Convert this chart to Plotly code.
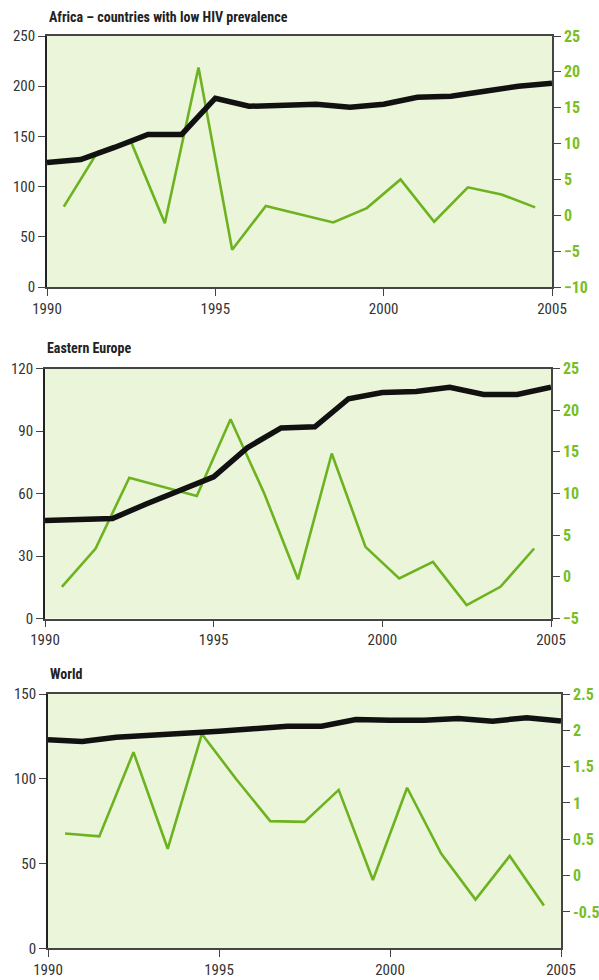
import plotly.graph_objects as go

years = list(range(1990, 2006))
years_mid = [y + 0.5 for y in range(1990, 2005)]

africa_black = [124, 127, 139, 152, 152, 188, 180, 181, 182, 179, 182, 189, 190, 195, 200, 203]
africa_green = [1.2, 8.8, 10.2, -1.1, 20.6, -4.8, 1.3, 0.2, -1.0, 1.0, 5.0, -0.9, 3.9, 2.9, 1.1]

ee_black = [47, 47.5, 48, 55, 61.5, 68, 82, 91.5, 92, 105.5, 108.5, 109, 111, 107.5, 107.5, 111]
ee_green = [-1.2, 3.4, 11.9, 10.8, 9.7, 18.9, 10.0, -0.3, 14.8, 3.6, -0.2, 1.8, -3.4, -1.2, 3.4]

world_black = [123, 122, 124.5, 125.5, 127, 128, 129.5, 131, 131, 135, 134.5, 134.5, 135.5, 134, 136, 134]
world_green = [0.58, 0.54, 1.70, 0.37, 1.95, 1.33, 0.75, 0.74, 1.18, -0.06, 1.21, 0.30, -0.33, 0.27, -0.41]

titles = ["Africa – countries with low HIV prevalence", "Eastern Europe", "World"]
x_ticks = [1990, 1995, 2000, 2005]

left_ticks = [[0, 50, 100, 150, 200, 250], [0, 30, 60, 90, 120], [0, 50, 100, 150]]
left_ranges = [[0, 250], [0, 120], [0, 150]]
right_ticks = [[-10, -5, 0, 5, 10, 15, 20, 25], [-5, 0, 5, 10, 15, 20, 25],
               [-0.5, 0, 0.5, 1, 1.5, 2, 2.5]]
right_text = [None, None, ["-0.5", "0", "0.5", "1", "1.5", "2", "2.5"]]
right_ranges = [[-10, 25], [-5, 25], [-1, 2.5]]

W, H = 599, 980
FONT = "Liberation Sans Narrow, Roboto Condensed, Arial Narrow, sans-serif"
GREEN = "#6DB31F"
GREEN_TXT = "#79BE24"
BG = "#EAF5DA"
AX = "#444444"

# pixel geometry per panel: (x_left, x_right, y_top, y_bottom)
geo = [(47, 552, 36, 287), (45, 551, 368.5, 618.5), (48, 561, 694, 948.3)]
title_y = [17, 348, 674]

blacks = [africa_black, ee_black, world_black]
greens = [africa_green, ee_green, world_green]

fig = go.Figure()
layout = dict(
    width=W, height=H, margin=dict(l=0, r=0, t=0, b=0),
    paper_bgcolor="white", plot_bgcolor=BG, showlegend=False,
    font=dict(family=FONT, size=14, color="#333333"),
    template="none",
)
annotations = []
for i in range(3):
    xl, xr, yt, yb = geo[i]
    xn = "x" if i == 0 else f"x{i + 1}"
    yr = f"y{2 * i + 1}" if i > 0 else "y"
    yl = f"y{2 * i + 2}"
    xdom = [xl / W, xr / W]
    ydom = [1 - yb / H, 1 - yt / H]

    fig.add_trace(go.Scatter(x=years_mid, y=greens[i], mode="lines",
                             line=dict(color=GREEN, width=2.6), xaxis=xn, yaxis=yr,
                             hoverinfo="skip"))
    fig.add_trace(go.Scatter(x=years, y=blacks[i], mode="lines",
                             line=dict(color="#111111", width=5.5), xaxis=xn, yaxis=yl,
                             hoverinfo="skip"))

    xkey = "xaxis" if i == 0 else f"xaxis{i + 1}"
    yrkey = "yaxis" if i == 0 else f"yaxis{2 * i + 1}"
    ylkey = f"yaxis{2 * i + 2}"
    layout[xkey] = dict(domain=xdom, range=[1990, 2005], anchor=yr,
                        tickvals=x_ticks, ticks="outside", ticklen=7, tickwidth=1.3,
                        tickcolor=AX, showline=True, linecolor=AX, linewidth=1.5,
                        mirror=True, showgrid=False, zeroline=False, automargin=False,
                        tickfont=dict(family=FONT, size=15, color="#333333"))
    rk = dict(domain=ydom, range=right_ranges[i], anchor=xn, side="right",
              tickvals=right_ticks[i], ticks="outside", ticklen=7, tickwidth=1.3,
              tickcolor=AX, showline=True, linecolor=AX, linewidth=1.5,
              showgrid=False, zeroline=False, automargin=False,
              tickfont=dict(family=FONT, size=16, color=GREEN_TXT, weight="bold"))
    if right_text[i] is not None:
        rk["ticktext"] = right_text[i]
    layout[yrkey] = rk
    layout[ylkey] = dict(range=left_ranges[i], overlaying=yr, anchor=xn, side="left",
                         tickvals=left_ticks[i], ticks="outside", ticklen=7, tickwidth=1.3,
                         tickcolor=AX, showline=True, linecolor="#222222", linewidth=1.8,
                         showgrid=False, zeroline=False, automargin=False,
                         tickfont=dict(family=FONT, size=15, color="#333333"))
    annotations.append(dict(text=titles[i], x=xl / W, y=1 - title_y[i] / H,
                            xref="paper", yref="paper", xanchor="left", yanchor="middle",
                            showarrow=False,
                            font=dict(family=FONT, size=14, color="#222222", weight="bold")))

layout["annotations"] = annotations
fig.update_layout(**layout)
fig.write_html("out.html", config={"displayModeBar": False},
               post_script="document.body.style.margin='0';document.body.style.padding='0';")
